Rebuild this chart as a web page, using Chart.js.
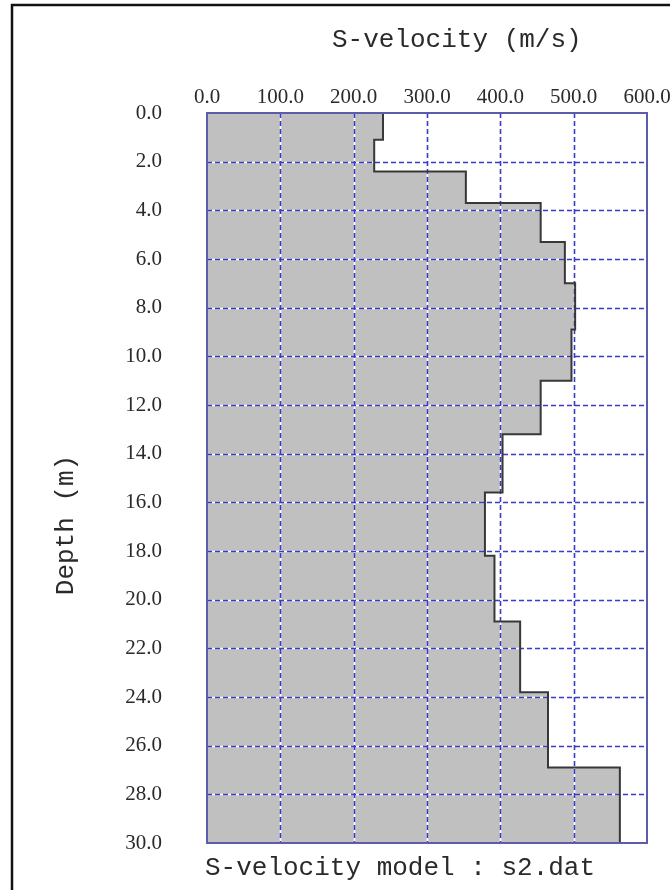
<!DOCTYPE html>
<html>
<head>
<meta charset="utf-8">
<title>S-velocity model</title>
<script src="https://cdn.jsdelivr.net/npm/chart.js@4/dist/chart.umd.min.js"></script>
<style>
  html, body { margin: 0; padding: 0; background: #fff; }
  canvas { display: block; }
</style>
</head>
<body>
<canvas id="vs" width="670" height="890"></canvas>
<script>
// ── Data ──────────────────────────────────────────────────────────
// Layer boundaries (m) and the S-velocity of each layer (m/s)
const layerTops    = [0.0, 1.1, 2.4, 3.7, 5.3, 7.0, 8.9, 11.0, 13.2, 15.6, 18.2, 20.9, 23.8, 26.9];
const layerBottoms = [1.1, 2.4, 3.7, 5.3, 7.0, 8.9, 11.0, 13.2, 15.6, 18.2, 20.9, 23.8, 26.9, 30.0];
const velocities   = [240, 228, 353, 455, 488, 502, 497, 455, 403, 379, 392, 427, 465, 563];

const velocityTicks = [0, 100, 200, 300, 400, 500, 600];
const depthTicks    = [0, 2, 4, 6, 8, 10, 12, 14, 16, 18, 20, 22, 24, 26, 28, 30];

const xTitle = 'S-velocity (m/s)';
const yTitle = 'Depth (m)';
const caption = 'S-velocity model : s2.dat';

// ── Build step profile from the layers ────────────────────────────
const profile = [];
velocities.forEach((v, i) => {
  profile.push({ x: v, y: layerTops[i] });
  profile.push({ x: v, y: layerBottoms[i] });
});
const fillShape = [{ x: 0, y: layerTops[0] }, ...profile, { x: 0, y: layerBottoms[layerBottoms.length - 1] }];

const MONO = '"Liberation Mono", "DejaVu Sans Mono", monospace';
const SERIF = '"Liberation Serif", "DejaVu Serif", serif';

// ── Plugin: page frame, dashed grid over fill, titles ─────────────
const decor = {
  id: 'decor',
  beforeDraw(chart) {
    const ctx = chart.ctx;
    ctx.save();
    ctx.fillStyle = '#fff';
    ctx.fillRect(0, 0, chart.width, chart.height);
    ctx.strokeStyle = '#111';
    ctx.lineWidth = 2.5;
    ctx.beginPath();
    ctx.moveTo(12, chart.height);
    ctx.lineTo(12, 5);
    ctx.lineTo(chart.width, 5);
    ctx.stroke();
    ctx.restore();
  },
  afterDatasetDraw(chart, args) {
    if (args.index !== 1) return;
    const ctx = chart.ctx;
    const a = chart.chartArea;
    const xs = chart.scales.x, ys = chart.scales.y;
    const lines = [];
    velocityTicks.slice(1, -1).forEach(v => {
      const px = Math.round(xs.getPixelForValue(v)) + 0.5;
      lines.push([px, a.top, px, a.bottom]);
    });
    depthTicks.slice(1, -1).forEach(d => {
      const py = Math.round(ys.getPixelForValue(d)) + 0.5;
      lines.push([a.left, py, a.right, py]);
    });
    ctx.save();
    ctx.lineWidth = 1.6;
    ctx.strokeStyle = '#ffffff';
    ctx.beginPath();
    lines.forEach(l => { ctx.moveTo(l[0], l[1]); ctx.lineTo(l[2], l[3]); });
    ctx.stroke();
    ctx.strokeStyle = '#3a3ac4';
    ctx.setLineDash([5, 3]);
    ctx.beginPath();
    lines.forEach(l => { ctx.moveTo(l[0], l[1]); ctx.lineTo(l[2], l[3]); });
    ctx.stroke();
    ctx.restore();
  },
  afterDraw(chart) {
    const ctx = chart.ctx;
    const a = chart.chartArea;
    ctx.save();
    ctx.strokeStyle = '#5c5cae';
    ctx.lineWidth = 2;
    ctx.strokeRect(a.left, a.top, a.right - a.left, a.bottom - a.top);

    ctx.fillStyle = '#2a2a2a';
    ctx.font = '26px ' + MONO;
    ctx.textBaseline = 'middle';
    ctx.textAlign = 'left';
    ctx.fillText(xTitle, 332, 40);
    ctx.fillText(caption, 205, 868);

    ctx.translate(66, 525);
    ctx.rotate(-Math.PI / 2);
    ctx.textAlign = 'center';
    ctx.fillText(yTitle, 0, 0);
    ctx.restore();
  }
};

// ── Chart ─────────────────────────────────────────────────────────
new Chart(document.getElementById('vs').getContext('2d'), {
  type: 'scatter',
  data: {
    datasets: [
      {
        label: 'profile',
        data: profile,
        showLine: true,
        borderColor: '#383838',
        borderWidth: 2,
        pointRadius: 0,
        fill: false,
      },
      {
        label: 'fill',
        data: fillShape,
        showLine: true,
        borderColor: 'rgba(0,0,0,0)',
        borderWidth: 0,
        pointRadius: 0,
        backgroundColor: '#c0c0c0',
        fill: 'shape',
      },
    ],
  },
  options: {
    responsive: false,
    animation: false,
    layout: { padding: { left: 0, right: 23, top: 0, bottom: 47 } },
    scales: {
      x: {
        type: 'linear',
        position: 'top',
        min: 0,
        max: 600,
        afterBuildTicks: (scale) => { scale.ticks = velocityTicks.map(v => ({ value: v })); },
        afterFit: (scale) => {
          scale.height = 113;
          scale.paddingLeft = 0;
          scale.paddingRight = 0;
        },
        grid: { display: false, drawTicks: false },
        border: { display: false },
        ticks: {
          padding: 3,
          color: '#2a2a2a',
          font: { family: SERIF, size: 21 },
          maxRotation: 0,
          callback: (v) => Number(v).toFixed(1),
        },
      },
      y: {
        type: 'linear',
        position: 'left',
        reverse: true,
        min: 0,
        max: 30,
        afterBuildTicks: (scale) => { scale.ticks = depthTicks.map(d => ({ value: d })); },
        afterFit: (scale) => {
          scale.width = 207;
          scale.paddingTop = 0;
          scale.paddingBottom = 0;
        },
        grid: { display: false, drawTicks: false },
        border: { display: false },
        ticks: {
          padding: 45,
          color: '#2a2a2a',
          font: { family: SERIF, size: 21 },
          callback: (v) => Number(v).toFixed(1),
        },
      },
    },
    plugins: {
      legend: { display: false },
      tooltip: { enabled: false },
    },
  },
  plugins: [decor],
});
</script>
</body>
</html>
